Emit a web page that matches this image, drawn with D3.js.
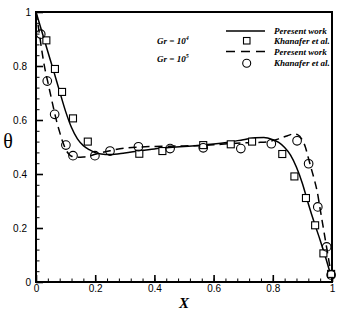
<!DOCTYPE html>
<html>
<head>
<meta charset="utf-8">
<script src="https://cdn.jsdelivr.net/npm/d3@7"></script>
<style>
  body { margin: 0; background: #fff; }
  .tick text { font-family: "Liberation Sans", Arial, sans-serif; font-size: 10px; fill: #000; }
  .leg { font-family: "Liberation Serif", "Times New Roman", serif; font-weight: bold; font-style: italic; font-size: 9px; }
</style>
</head>
<body>
<svg width="340" height="313"></svg>
<script>
// present work, Gr = 10^4 (solid)
const solidX = [0, 0.02, 0.04, 0.06, 0.08, 0.10, 0.12, 0.14, 0.16, 0.18, 0.20, 0.22, 0.25, 0.30, 0.35, 0.40, 0.45, 0.50, 0.55, 0.60, 0.65, 0.70, 0.74, 0.77, 0.80, 0.82, 0.84, 0.86, 0.88, 0.90, 0.92, 0.94, 0.96, 0.98, 1.0];
const solidY = [1.0, 0.927, 0.853, 0.78, 0.705, 0.632, 0.572, 0.53, 0.505, 0.49, 0.479, 0.474, 0.472, 0.478, 0.486, 0.493, 0.498, 0.502, 0.506, 0.511, 0.518, 0.527, 0.534, 0.535, 0.527, 0.517, 0.498, 0.47, 0.425, 0.365, 0.29, 0.22, 0.155, 0.085, 0.01];

// present work, Gr = 10^5 (dashed)
const dashX = [0, 0.01, 0.02, 0.03, 0.04, 0.05, 0.06, 0.07, 0.08, 0.09, 0.10, 0.11, 0.12, 0.14, 0.16, 0.18, 0.20, 0.25, 0.30, 0.35, 0.40, 0.50, 0.60, 0.65, 0.70, 0.75, 0.78, 0.82, 0.85, 0.87, 0.885, 0.90, 0.91, 0.92, 0.93, 0.94, 0.95, 0.96, 0.97, 0.98, 0.99, 1.0];
const dashY = [1.0, 0.93, 0.855, 0.79, 0.74, 0.69, 0.64, 0.594, 0.555, 0.52, 0.492, 0.475, 0.466, 0.462, 0.463, 0.467, 0.473, 0.486, 0.496, 0.50, 0.502, 0.504, 0.508, 0.512, 0.515, 0.517, 0.519, 0.53, 0.542, 0.548, 0.545, 0.525, 0.50, 0.46, 0.42, 0.38, 0.335, 0.27, 0.205, 0.14, 0.075, 0.01];

// Khanafer et al., Gr = 10^4 (squares)
const sqX = [0.035, 0.064, 0.088, 0.125, 0.175, 0.349, 0.427, 0.565, 0.658, 0.730, 0.832, 0.873, 0.912, 0.943, 0.971, 0.997];
const sqY = [0.895, 0.789, 0.704, 0.606, 0.520, 0.475, 0.485, 0.507, 0.510, 0.520, 0.474, 0.391, 0.311, 0.210, 0.106, 0.030];

// Khanafer et al., Gr = 10^5 (circles)
const ciX = [0.016, 0.038, 0.063, 0.101, 0.125, 0.199, 0.25, 0.346, 0.453, 0.565, 0.692, 0.795, 0.882, 0.921, 0.952, 0.982, 0.997];
const ciY = [0.918, 0.744, 0.621, 0.507, 0.468, 0.468, 0.485, 0.501, 0.494, 0.497, 0.494, 0.512, 0.523, 0.438, 0.278, 0.130, 0.026];

const majorTicks = [0, 0.2, 0.4, 0.6, 0.8, 1];
const minorTicks = d3.range(0, 1.0001, 0.04);

const svg = d3.select("svg");
const margin = {top: 12, right: 8, bottom: 31, left: 36};
const w = 340 - margin.left - margin.right;
const h = 313 - margin.top - margin.bottom;
const g = svg.append("g").attr("transform", `translate(${margin.left},${margin.top})`);

const x = d3.scaleLinear().domain([0, 1]).range([0, w]);
const y = d3.scaleLinear().domain([0, 1]).range([h, 0]);
const fmt = d => d === 0 ? "0" : d === 1 ? "1" : d3.format(".1f")(d);

// minor ticks
g.append("g").call(d3.axisLeft(y).tickValues(minorTicks).tickSize(-3.5).tickFormat(""))
  .call(a => a.select(".domain").remove());
g.append("g").attr("transform", `translate(0,${h})`)
  .call(d3.axisBottom(x).tickValues(minorTicks).tickSize(-3.5).tickFormat(""))
  .call(a => a.select(".domain").remove());

// major ticks
const yAx = g.append("g").call(d3.axisLeft(y).tickValues(majorTicks).tickSize(-7).tickPadding(5).tickFormat(fmt));
yAx.select(".domain").remove();
yAx.selectAll(".tick text").attr("x", d => Number.isInteger(d) ? -5 : -9);
yAx.selectAll(".tick line").attr("stroke-width", 1.6);
const xAx = g.append("g").attr("transform", `translate(0,${h})`)
  .call(d3.axisBottom(x).tickValues(majorTicks).tickSize(-7).tickPadding(3).tickFormat(fmt));
xAx.select(".domain").remove();
xAx.selectAll(".tick line").attr("stroke-width", 1.6);

// frame
g.append("rect").attr("width", w).attr("height", h)
  .attr("fill", "none").attr("stroke", "#000").attr("stroke-width", 2);

const line = d3.line().x(d => x(d[0])).y(d => y(d[1])).curve(d3.curveMonotoneX);

g.append("path").datum(d3.zip(solidX, solidY)).attr("d", line)
  .attr("fill", "none").attr("stroke", "#000").attr("stroke-width", 1.5);
g.append("path").datum(d3.zip(dashX, dashY)).attr("d", line)
  .attr("fill", "none").attr("stroke", "#000").attr("stroke-width", 1.5)
  .attr("stroke-dasharray", "8,5");

g.selectAll("rect.sq").data(d3.zip(sqX, sqY)).join("rect").attr("class", "sq")
  .attr("x", d => x(d[0]) - 3.5).attr("y", d => y(d[1]) - 3.5)
  .attr("width", 7).attr("height", 7)
  .attr("fill", "#fff").attr("stroke", "#000").attr("stroke-width", 1.1);
g.selectAll("circle.ci").data(d3.zip(ciX, ciY)).join("circle").attr("class", "ci")
  .attr("cx", d => x(d[0])).attr("cy", d => y(d[1])).attr("r", 4.3)
  .attr("fill", "none").attr("stroke", "#000").attr("stroke-width", 1.1);

// legend
const leg = svg.append("g");
leg.append("line").attr("x1", 226).attr("x2", 265).attr("y1", 31).attr("y2", 31)
  .attr("stroke", "#000").attr("stroke-width", 1.5);
leg.append("rect").attr("x", 243.5).attr("y", 37.5).attr("width", 6.5).attr("height", 6.5)
  .attr("fill", "#fff").attr("stroke", "#000").attr("stroke-width", 1.1);
leg.append("line").attr("x1", 226).attr("x2", 265).attr("y1", 51.5).attr("y2", 51.5)
  .attr("stroke", "#000").attr("stroke-width", 1.5).attr("stroke-dasharray", "9,6");
leg.append("circle").attr("cx", 246.7).attr("cy", 63.3).attr("r", 4)
  .attr("fill", "none").attr("stroke", "#000").attr("stroke-width", 1.1);
const legText = ["Peresent work", "Khanafer et al.", "Peresent work", "Khanafer et al."];
const legY = [34, 44, 55, 66];
legText.forEach((t, i) => leg.append("text").attr("class", "leg").attr("x", 274).attr("y", legY[i]).text(t));

const grExp = ["4", "5"];
const grY = [44, 62];
grExp.forEach((e, i) => {
  const t = leg.append("text").attr("class", "leg").attr("x", 157).attr("y", grY[i]).text("Gr = 10");
  t.append("tspan").attr("dy", -4).attr("font-size", 6).text(e);
});

// axis titles
svg.append("text").attr("x", 184).attr("y", 308).attr("text-anchor", "middle")
  .attr("font-family", "Liberation Serif, serif").attr("font-weight", "bold").attr("font-style", "italic")
  .attr("font-size", 15).text("X");
svg.append("text").attr("x", 8).attr("y", 148).attr("text-anchor", "middle")
  .attr("font-family", "Liberation Serif, serif").attr("font-size", 20).text("θ");
</script>
</body>
</html>
